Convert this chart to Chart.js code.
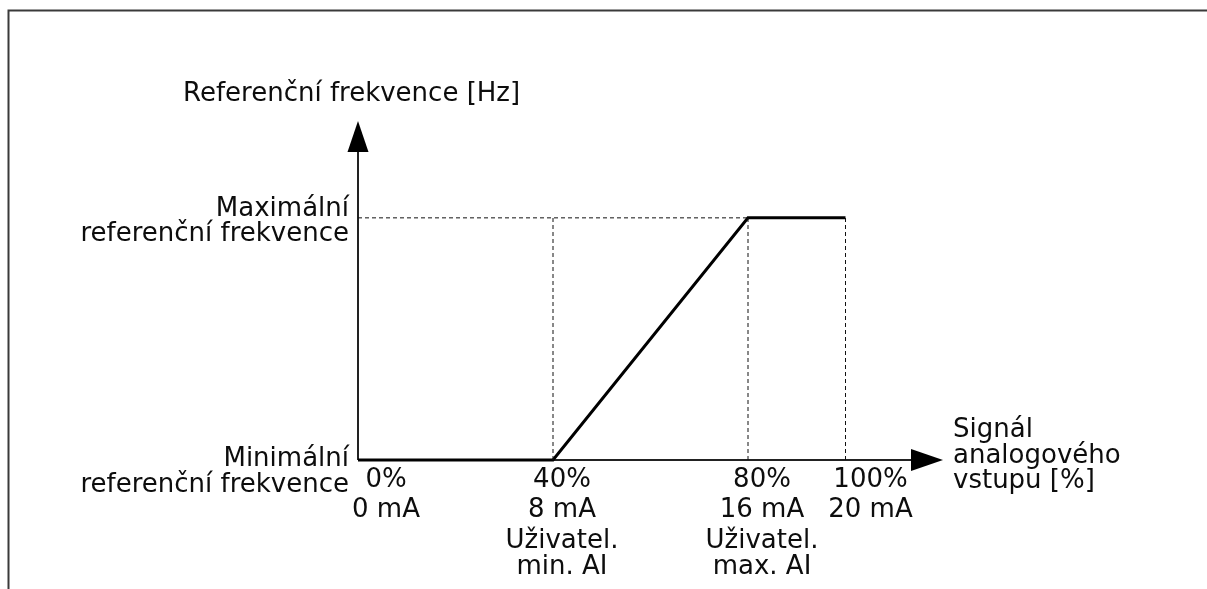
<!DOCTYPE html>
<html lang="cs">
<head>
<meta charset="utf-8">
<title>Referenční frekvence</title>
<script src="https://cdn.jsdelivr.net/npm/chart.js@4"></script>
<style>
  html, body { margin: 0; padding: 0; background: #fff; }
  #wrap { width: 1207px; height: 589px; }
</style>
</head>
<body>
<div id="wrap"><canvas id="refChart" width="1207" height="589"></canvas></div>
<script>
// breakpoints of the characteristic
const signalPct = [0, 40, 80, 100];
const currentMa = [0, 8, 16, 20];
const refLevel = [0, 0, 1, 1];          // 0 = min. reference, 1 = max. reference

const userNotes = [[], ["Uživatel.", "min. AI"], ["Uživatel.", "max. AI"], []];
const levelLabels = [["Minimální", "referenční frekvence"], ["Maximální", "referenční frekvence"]];
const yTitle = "Referenční frekvence [Hz]";
const xTitle = ["Signál", "analogového", "vstupu [%]"];

(function () {
  const FONT = '26px "DejaVu Sans", Verdana, sans-serif';
  const TEXT = "#0d0d0d";
  const X_END = 120;   // where the x arrow tip sits
  const Y_END = 1.4;   // where the y arrow tip sits

  // horizontal shift of each tick label block, px
  const tickShift = [28, 9, 14, 25];
  // baseline of first line of each level label, relative to the level
  const levelShift = [6, -2];

  const mainLine = signalPct.map((x, i) => ({ x: x, y: refLevel[i] }));
  const maxLevel = refLevel[refLevel.length - 1];
  const guides = [];
  // dashed horizontal from the axis to where max is reached
  guides.push([{ x: 0, y: maxLevel }, { x: signalPct[2], y: maxLevel }]);
  // dashed verticals at the user min / max and at 100 %
  signalPct.slice(1).forEach(p => guides.push([{ x: p, y: 0 }, { x: p, y: maxLevel }]));

  const datasets = guides.map(g => ({
    data: g,
    borderColor: "#111",
    borderWidth: 1,
    borderDash: [4, 3],
    pointRadius: 0,
    clip: false,
    parsing: false
  }));
  datasets.push({
    data: mainLine,
    borderColor: "#000",
    borderWidth: 3,
    pointRadius: 0,
    clip: false,
    parsing: false
  });

  function text(ctx, str, x, y, align) {
    ctx.textAlign = align;
    ctx.fillText(str, x, y);
  }

  const decor = {
    id: "decor",
    beforeDatasetsDraw(chart) {
      const ctx = chart.ctx;
      const xs = chart.scales.x, ys = chart.scales.y;
      const x0 = xs.getPixelForValue(0), y0 = ys.getPixelForValue(0);
      const xTip = xs.getPixelForValue(X_END), yTip = ys.getPixelForValue(Y_END);
      ctx.save();

      // frame
      ctx.strokeStyle = "#3a3a3a";
      ctx.lineWidth = 2;
      ctx.beginPath();
      ctx.moveTo(8.5, chart.height);
      ctx.lineTo(8.5, 10.5);
      ctx.lineTo(chart.width, 10.5);
      ctx.stroke();

      // axes
      ctx.strokeStyle = "#222";
      ctx.lineWidth = 2;
      ctx.beginPath();
      ctx.moveTo(x0, y0);
      ctx.lineTo(x0, yTip + 30);
      ctx.moveTo(x0, y0);
      ctx.lineTo(xTip - 30, y0);
      ctx.stroke();

      ctx.fillStyle = "#000";
      ctx.beginPath();
      ctx.moveTo(x0, yTip);
      ctx.lineTo(x0 - 10.5, yTip + 31);
      ctx.lineTo(x0 + 10.5, yTip + 31);
      ctx.closePath();
      ctx.fill();
      ctx.beginPath();
      ctx.moveTo(xTip, y0);
      ctx.lineTo(xTip - 32, y0 - 11);
      ctx.lineTo(xTip - 32, y0 + 11);
      ctx.closePath();
      ctx.fill();
      ctx.restore();
    },
    afterDraw(chart) {
      const ctx = chart.ctx;
      const xs = chart.scales.x, ys = chart.scales.y;
      const x0 = xs.getPixelForValue(0), y0 = ys.getPixelForValue(0);
      const xTip = xs.getPixelForValue(X_END), yTip = ys.getPixelForValue(Y_END);
      ctx.save();
      ctx.font = FONT;
      ctx.fillStyle = TEXT;
      ctx.textBaseline = "alphabetic";

      text(ctx, yTitle, x0 - 175, yTip - 20, "left");

      xTitle.forEach((s, i) => text(ctx, s, xTip + 10, y0 - 23 + i * 25.5, "left"));

      levelLabels.forEach((lines, i) => {
        const y = ys.getPixelForValue(i) + levelShift[i];
        lines.forEach((s, j) => text(ctx, s, x0 - 9, y + j * 25.5, "right"));
      });

      signalPct.forEach((p, i) => {
        const cx = xs.getPixelForValue(p) + tickShift[i];
        const lines = [p + "%", currentMa[i] + " mA"].concat(userNotes[i]);
        const base = [27, 57, 88, 114];
        lines.forEach((s, j) => text(ctx, s, cx, y0 + base[j], "center"));
      });
      ctx.restore();
    }
  };

  new Chart(document.getElementById("refChart"), {
    type: "line",
    data: { datasets: datasets },
    options: {
      responsive: false,
      animation: false,
      events: [],
      layout: { padding: { left: 358, right: 264, top: 121, bottom: 129 } },
      scales: {
        x: { type: "linear", min: 0, max: X_END, display: false },
        y: { type: "linear", min: 0, max: Y_END, display: false }
      },
      plugins: { legend: { display: false }, tooltip: { enabled: false } }
    },
    plugins: [decor]
  });
})();
</script>
</body>
</html>
